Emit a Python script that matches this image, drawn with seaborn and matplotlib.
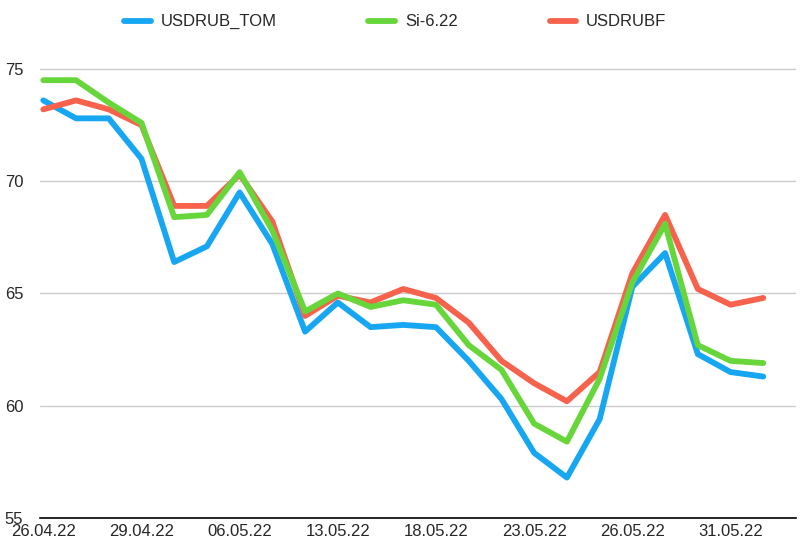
import matplotlib
matplotlib.use("Agg")
import matplotlib.pyplot as plt
import seaborn as sns
import pandas as pd

dates = ["26.04.22","27.04.22","28.04.22","29.04.22","04.05.22","05.05.22","06.05.22","11.05.22",
         "12.05.22","13.05.22","16.05.22","17.05.22","18.05.22","19.05.22","20.05.22","23.05.22",
         "24.05.22","25.05.22","26.05.22","27.05.22","30.05.22","31.05.22","01.06.22"]
usdrub_tom = [73.6,72.8,72.8,71.0,66.4,67.1,69.5,67.2,63.3,64.6,63.5,63.6,63.5,62.0,60.3,57.9,56.8,59.4,65.3,66.8,62.3,61.5,61.3]
si_622 = [74.5,74.5,73.5,72.6,68.4,68.5,70.4,67.8,64.2,65.0,64.4,64.7,64.5,62.7,61.6,59.2,58.4,61.2,65.5,68.1,62.7,62.0,61.9]
usdrubf = [73.2,73.6,73.2,72.5,68.9,68.9,70.3,68.2,64.0,64.9,64.6,65.2,64.8,63.7,62.0,61.0,60.2,61.5,65.9,68.5,65.2,64.5,64.8]
series = ["USDRUB_TOM", "Si-6.22", "USDRUBF"]
colors = {"USDRUB_TOM": "#17A6F2", "Si-6.22": "#66D63A", "USDRUBF": "#F7624C"}
zorders = {"USDRUB_TOM": 2, "Si-6.22": 4, "USDRUBF": 3}

idx = list(range(len(dates)))
df = pd.DataFrame({"i": idx * 3,
                   "v": usdrub_tom + si_622 + usdrubf,
                   "s": [s for s in series for _ in dates]})

sns.set_style("white")
plt.rcParams['font.family'] = ['Liberation Sans', 'DejaVu Sans']
fig, ax = plt.subplots(figsize=(8, 5.47), dpi=100)
fig.subplots_adjust(left=0.05, right=0.995, top=0.915, bottom=0.053)
for s in series:
    d = df[df.s == s]
    sns.lineplot(data=d, x="i", y="v", ax=ax, color=colors[s], linewidth=4.2,
                 label=s, zorder=zorders[s])
ax.set_ylim(55, 76.0)
ax.set_xlim(-0.1, 23.0)
ax.set_yticks([55, 60, 65, 70, 75])
ax.set_xticks(idx[::3])
ax.set_xticklabels(dates[::3])
ax.tick_params(length=0, labelsize=12, pad=4)
ax.tick_params(axis="y", pad=12)
ax.set_xlabel(""); ax.set_ylabel("")
ax.yaxis.grid(True, color="#cccccc", linewidth=1)
for sp in ["left", "right", "top"]:
    ax.spines[sp].set_visible(False)
ax.spines["bottom"].set_color("black")
ax.spines["bottom"].set_linewidth(1.2)
ax.legend(loc="upper center", bbox_to_anchor=(0.47, 1.1), ncol=3, frameon=False,
          fontsize=12, handlelength=1.6, columnspacing=5.5, handletextpad=0.6)
fig.savefig("out.png", dpi=100)
